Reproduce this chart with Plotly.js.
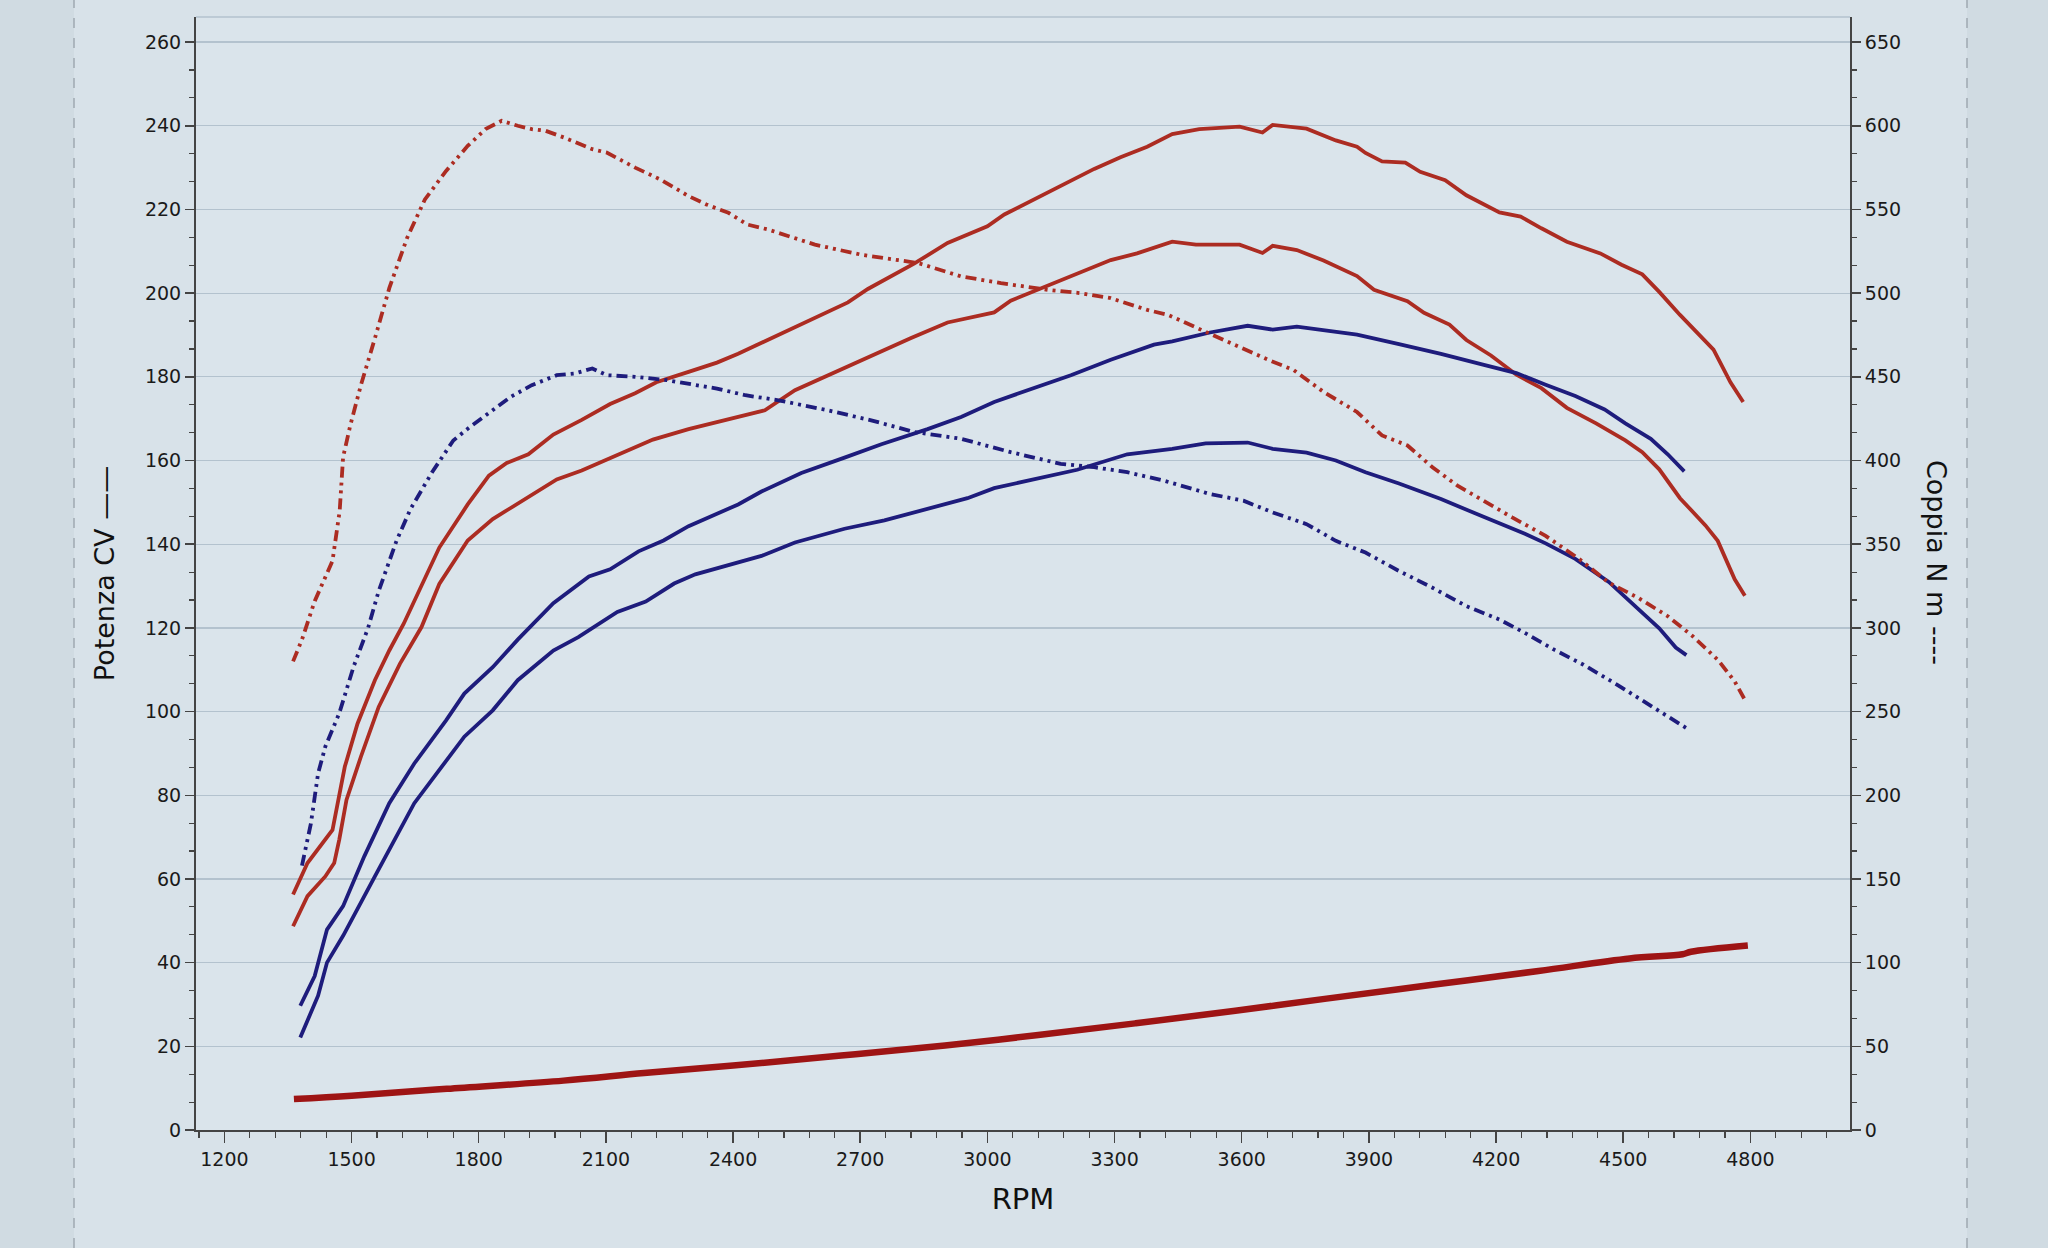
<!DOCTYPE html>
<html>
<head>
<meta charset="utf-8">
<script src="https://cdn.plot.ly/plotly-3.0.1.min.js"></script>
<style>
  html, body { margin: 0; padding: 0; background: #d8e2e9; }
  #chart { width: 2048px; height: 1248px; }
</style>
</head>
<body>
<div id="chart"></div>
<script>
// ---------- Data ----------
// Power, red, upper curve (CV)
const rpmRedP1 = [1362,1396,1455,1471,1484,1514,1555,1589,1623,1707,1774,1824,1866,1917,1976,2043,2110,2169,2219,2295,2362,2412,2491,2585,2671,2718,2828,2906,3000,3040,3095,3173,3252,3314,3377,3436,3500,3595,3649,3673,3753,3822,3872,3892,3931,3986,4021,4080,4130,4208,4258,4307,4367,4446,4496,4545,4585,4634,4684,4713,4753,4783];
const cvRedP1  = [56.3,63.8,71.7,79.7,86.8,97.1,107.5,114.6,121,139.2,149.5,156.4,159.4,161.5,166.2,169.7,173.5,176.1,178.7,181.2,183.4,185.5,189.3,193.8,197.8,201,207.1,212,216,218.8,221.6,225.7,229.7,232.5,235,238,239.2,239.8,238.4,240.2,239.3,236.5,235,233.5,231.5,231.2,229,227,223.4,219.3,218.3,215.5,212.3,209.5,206.8,204.5,200.3,194.8,189.7,186.5,178.7,174];

// Power, red, lower curve (CV)
const rpmRedP2 = [1362,1396,1438,1459,1471,1488,1522,1564,1614,1665,1707,1774,1833,1875,1917,1984,2043,2110,2211,2295,2379,2429,2475,2546,2624,2718,2820,2906,3016,3055,3134,3212,3291,3353,3436,3492,3595,3649,3673,3730,3793,3872,3912,3991,4030,4090,4130,4188,4248,4307,4367,4436,4505,4545,4585,4634,4694,4723,4763,4787];
const cvRedP2  = [48.7,55.9,60.6,63.8,69.4,78.9,89.2,101.1,111.4,120.2,130.5,140.9,146,148.6,151.2,155.5,157.6,160.6,165,167.5,169.7,171,172,176.8,180.4,184.5,189.3,193,195.4,198.2,201.5,204.7,207.9,209.5,212.3,211.6,211.6,209.6,211.3,210.3,207.8,204.1,200.8,198.1,195.3,192.5,188.8,185.1,180.5,177.3,172.6,168.9,164.8,162,157.9,151,144.5,140.8,131.6,127.7];

// Power, blue, upper curve (CV)
const rpmBlueP1 = [1379,1413,1442,1480,1530,1589,1648,1723,1766,1833,1892,1925,1976,2060,2110,2177,2236,2295,2354,2412,2467,2561,2663,2750,2859,2938,3016,3095,3197,3291,3393,3436,3525,3614,3673,3730,3793,3872,3971,4070,4169,4248,4317,4387,4456,4505,4565,4605,4644];
const cvBlueP1  = [29.7,36.8,47.9,53.5,65.4,78.1,87.6,97.9,104.3,110.6,117.2,120.5,125.9,132.3,134,138.3,140.9,144.3,146.9,149.5,152.6,157,160.7,163.9,167.5,170.4,174,176.8,180.4,184.1,187.7,188.5,190.6,192.2,191.3,192,191.1,190.1,187.8,185.5,182.9,180.9,178.1,175.4,172.2,168.9,165.2,161.5,157.4];

// Power, blue, lower curve (CV)
const rpmBlueP2 = [1379,1421,1442,1480,1555,1648,1766,1833,1892,1976,2035,2077,2127,2194,2261,2311,2362,2412,2467,2546,2663,2757,2859,2953,3016,3118,3212,3330,3408,3436,3515,3614,3673,3753,3822,3892,3971,4070,4169,4268,4317,4387,4466,4525,4585,4624,4649];
const cvBlueP2  = [22.1,32.1,40,46.4,60.6,78.1,94,100.3,107.5,114.6,117.8,120.5,123.8,126.3,130.6,132.8,134.3,135.6,137.2,140.4,143.7,145.7,148.5,151,153.4,155.8,157.8,161.5,162.3,162.8,164.1,164.3,162.8,161.9,160,157.2,154.5,150.8,146.6,142.5,140.2,136.5,131,125.4,119.9,115.3,113.5];

// Torque, red (N m)
const rpmRedT = [1362,1383,1413,1455,1472,1480,1497,1522,1555,1589,1631,1673,1723,1774,1816,1854,1892,1925,1958,2001,2068,2102,2169,2228,2295,2337,2389,2434,2483,2593,2702,2836,2938,3032,3142,3220,3291,3377,3426,3505,3604,3664,3723,3793,3872,3931,3991,4050,4109,4169,4238,4317,4397,4466,4535,4605,4664,4723,4763,4787];
const nmRedT  = [280,293,316,340,370,402,421,445,473,503,533,556,573,588,598,603,600,598,597,593,586,584,575,568,558,553,548,541,538,529,523,518,510,506,502,500,497,490,487,478,467,460,454,441,429,415,409,396,385,376,366,355,341,327,318,307,295,281,268,257];

// Torque, blue (N m)
const rpmBlueT = [1383,1404,1421,1438,1471,1505,1539,1564,1606,1639,1690,1740,1774,1816,1875,1925,1984,2026,2068,2102,2169,2244,2295,2362,2429,2507,2624,2726,2828,2938,3055,3173,3252,3330,3416,3456,3525,3604,3673,3753,3822,3892,3971,4050,4130,4208,4268,4337,4406,4486,4555,4605,4650];
const nmBlueT  = [158,183,213,229,249,277,300,322,352,371,393,412,419,427,438,445,451,452,455,451,450,448,446,443,439,436,430,424,417,413,405,398,396,393,388,385,380,376,369,362,352,345,334,324,313,305,297,287,278,266,255,247,240];

// Loss power, red thick bottom curve (CV)
const rpmLoss = [1364,1500,1725,2000,2190,2400,2655,2900,3120,3350,3585,3800,4050,4300,4515,4640,4660,4794];
const cvLoss  = [7.4,8.2,9.85,11.8,13.6,15.4,17.8,20.2,22.7,25.5,28.5,31.4,34.7,38,41,42,42.6,44.1];

// Axis ticks
const rpmTicks = [1200,1500,1800,2100,2400,2700,3000,3300,3600,3900,4200,4500,4800];
const cvTicks  = [0,20,40,60,80,100,120,140,160,180,200,220,240,260];
const nmTicks  = [0,50,100,150,200,250,300,350,400,450,500,550,600,650];

// ---------- Styles ----------
const RED = 'rgb(172,44,34)';
const BLUE = 'rgb(30,28,124)';
const DARKRED = 'rgb(158,20,20)';
const DASH = '11px,5px,3px,5px,3px,5px';
const FONT = 'DejaVu Sans, Verdana, sans-serif';

const traces = [
  {x: rpmRedP1, y: cvRedP1, mode: 'lines', line: {color: RED, width: 3.8}},
  {x: rpmRedP2, y: cvRedP2, mode: 'lines', line: {color: RED, width: 3.8}},
  {x: rpmBlueP1, y: cvBlueP1, mode: 'lines', line: {color: BLUE, width: 3.8}},
  {x: rpmBlueP2, y: cvBlueP2, mode: 'lines', line: {color: BLUE, width: 3.8}},
  {x: rpmRedT, y: nmRedT, yaxis: 'y2', mode: 'lines', line: {color: RED, width: 3.8, dash: DASH}},
  {x: rpmBlueT, y: nmBlueT, yaxis: 'y2', mode: 'lines', line: {color: BLUE, width: 3.8, dash: DASH}},
  {x: rpmLoss, y: cvLoss, mode: 'lines', line: {color: DARKRED, width: 6.5, shape: 'spline'}}
];

const L = 196, R = 1850, T = 17, B = 1130, W = 2048, H = 1248;
const px = v => (v - L) / (R - L);
const py = v => (B - v) / (B - T);

const layout = {
  width: W, height: H,
  margin: {l: L, r: W - R, t: T, b: H - B, pad: 0},
  paper_bgcolor: '#d8e2e9',
  plot_bgcolor: '#dae4eb',
  showlegend: false,
  hovermode: false,
  font: {family: FONT, color: '#1a1a1a', size: 19},
  xaxis: {
    range: [1133, 5035],
    tickmode: 'array', tickvals: rpmTicks, ticktext: rpmTicks.map(String),
    ticks: 'outside', ticklen: 11, tickwidth: 1.5, tickcolor: '#444',
    minor: {dtick: 60, tick0: 1200, ticks: 'outside', ticklen: 6, tickwidth: 1.2, tickcolor: '#444', showgrid: false},
    showline: true, linecolor: '#444', linewidth: 2,
    showgrid: false, zeroline: false,
    tickfont: {family: FONT, size: 19, color: '#1a1a1a'},
    title: {text: 'RPM', font: {family: FONT, size: 29, color: '#111'}, standoff: 20}
  },
  yaxis: {
    range: [0, 266],
    tickmode: 'array', tickvals: cvTicks, ticktext: cvTicks.map(String),
    ticks: 'outside', ticklen: 9, tickwidth: 1.5, tickcolor: '#444',
    minor: {dtick: 20/3, tick0: 0, ticks: 'outside', ticklen: 5, tickwidth: 1.2, tickcolor: '#444', showgrid: false},
    showline: true, linecolor: '#444', linewidth: 2,
    showgrid: true, gridcolor: '#b3c2ce', gridwidth: 1.3, zeroline: false,
    tickfont: {family: FONT, size: 19, color: '#1a1a1a'},
    title: {text: 'Potenza CV ——', font: {family: FONT, size: 27, color: '#111'}, standoff: 22}
  },
  yaxis2: {
    overlaying: 'y', side: 'right',
    range: [0, 665],
    tickmode: 'array', tickvals: nmTicks, ticktext: nmTicks.map(String),
    ticks: 'outside', ticklen: 9, tickwidth: 1.5, tickcolor: '#444',
    minor: {dtick: 50/3, tick0: 0, ticks: 'outside', ticklen: 5, tickwidth: 1.2, tickcolor: '#444', showgrid: false},
    showline: true, linecolor: '#444', linewidth: 2,
    showgrid: false, zeroline: false,
    tickfont: {family: FONT, size: 19, color: '#1a1a1a'}
  },
  annotations: [
    {xref: 'paper', yref: 'paper', x: px(1937), y: py(562), text: 'Coppia N m ----',
     textangle: 90, showarrow: false, xanchor: 'center', yanchor: 'middle',
     font: {family: FONT, size: 27, color: '#111'}}
  ],
  shapes: [
    {type: 'rect', xref: 'paper', yref: 'paper', x0: px(0), x1: px(74), y0: py(H), y1: py(0),
     fillcolor: '#d0dbe2', line: {width: 0}, layer: 'below'},
    {type: 'rect', xref: 'paper', yref: 'paper', x0: px(1967), x1: px(W), y0: py(H), y1: py(0),
     fillcolor: '#d0dbe2', line: {width: 0}, layer: 'below'},
    {type: 'line', xref: 'paper', yref: 'paper', x0: px(74), x1: px(74), y0: py(H), y1: py(0),
     line: {color: '#9ea9b1', width: 1.5, dash: '10px,10px'}},
    {type: 'line', xref: 'paper', yref: 'paper', x0: px(1967), x1: px(1967), y0: py(H), y1: py(0),
     line: {color: '#9ea9b1', width: 1.5, dash: '10px,10px'}},
    {type: 'line', xref: 'paper', yref: 'paper', x0: 0, x1: 1, y0: 1, y1: 1,
     line: {color: '#b3c2ce', width: 1.3}}
  ]
};

Plotly.newPlot('chart', traces, layout, {displayModeBar: false, staticPlot: true});
</script>
</body>
</html>
